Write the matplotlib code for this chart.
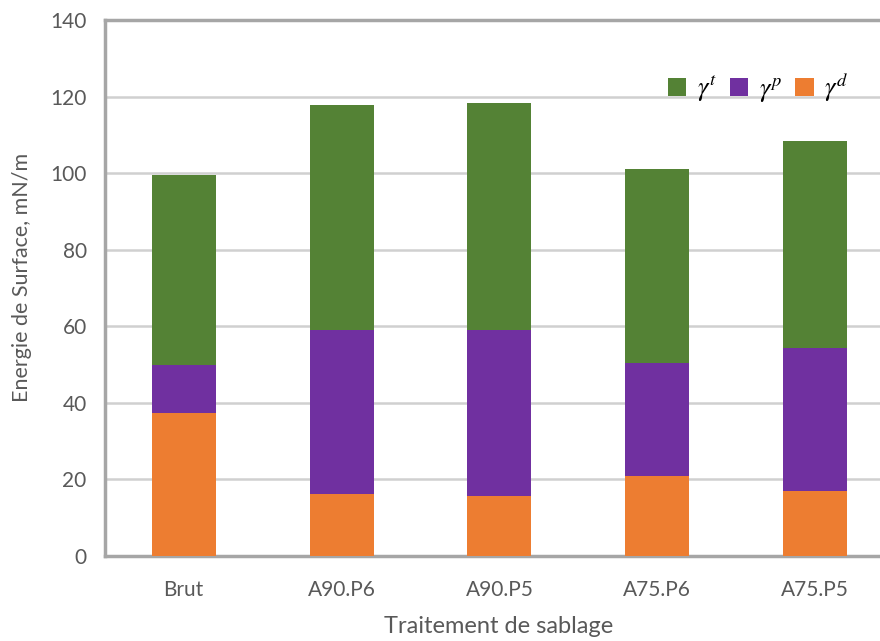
import matplotlib.pyplot as plt
import numpy as np

plt.rcParams['font.family'] = ['Lato', 'DejaVu Sans']
plt.rcParams['mathtext.fontset'] = 'stix'

categories = ['Brut', 'A90.P6', 'A90.P5', 'A75.P6', 'A75.P5']
gamma_d = [37.4, 16.1, 15.8, 20.8, 17.1]
gamma_p = [12.4, 42.8, 43.3, 29.7, 37.1]
gamma_t = [49.8, 59.0, 59.1, 50.5, 54.2]

c_d = '#ed7d31'
c_p = '#7030a0'
c_t = '#548235'
grey = '#595959'

fig = plt.figure(figsize=(8.8, 6.41), dpi=100)
ax = fig.add_axes([0.119, 0.1326, 0.881, 0.8362])

x = np.arange(len(categories))
d = np.array(gamma_d)
p = np.array(gamma_p)
t = np.array(gamma_t)
w = 0.405

bd = ax.bar(x, d, width=w, color=c_d, zorder=3)
bp = ax.bar(x, p, width=w, bottom=d, color=c_p, zorder=3)
bt = ax.bar(x, t, width=w, bottom=d + p, color=c_t, zorder=3)

ax.set_xlim(-0.5, 4.41)
ax.set_ylim(0, 140)
ax.set_yticks(np.arange(0, 141, 20))
ax.set_xticks(x)
ax.set_xticklabels(categories)
ax.yaxis.grid(True, color='#d0d0d0', linewidth=1.8, zorder=0)
ax.set_axisbelow(True)

for s in ['left', 'top', 'bottom']:
    ax.spines[s].set_color('#a6a6a6')
    ax.spines[s].set_linewidth(2.5)
ax.spines['right'].set_visible(False)
ax.tick_params(length=0, labelsize=15, colors=grey)
ax.tick_params(axis='x', pad=17)
ax.tick_params(axis='y', pad=13)

ax.set_ylabel('Energie de Surface, mN/m', fontsize=15.5, color=grey)
ax.yaxis.set_label_coords(-0.094, 0.52)
ax.set_xlabel('Traitement de sablage', fontsize=17, color=grey)
ax.xaxis.set_label_coords(0.508, -0.112)

ax.legend([bt, bp, bd], [r'$\gamma^t$', r'$\gamma^p$', r'$\gamma^d$'],
          ncol=3, loc='upper right', bbox_to_anchor=(0.99, 0.95),
          frameon=False, fontsize=19, handlelength=0.7, handleheight=0.7,
          handletextpad=0.4, columnspacing=0.5)

fig.savefig('out.png', dpi=100)
